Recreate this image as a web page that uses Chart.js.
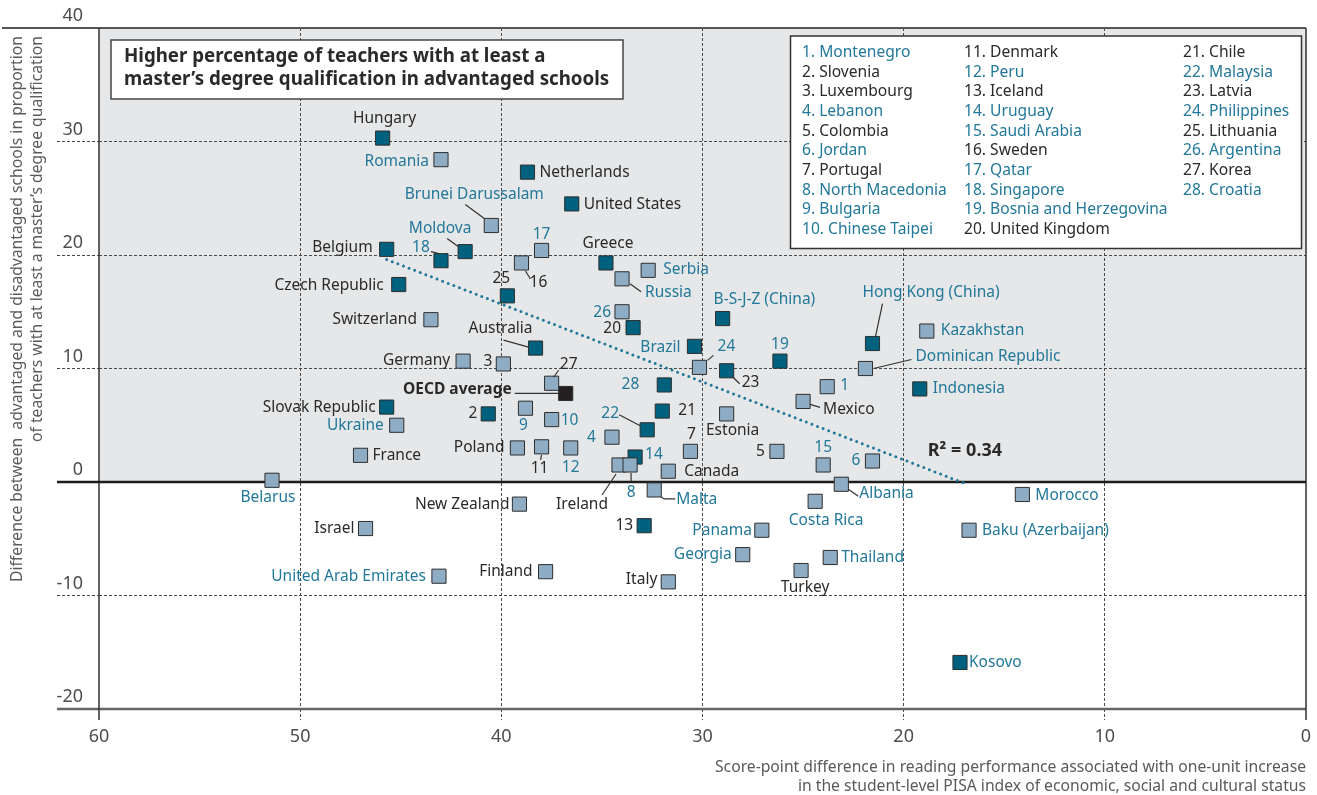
<!DOCTYPE html>
<html>
<head>
<meta charset="utf-8">
<script src="https://cdn.jsdelivr.net/npm/chart.js@4.4.0/dist/chart.umd.min.js"></script>
<style>
  html, body { margin: 0; padding: 0; background: #fff; }
  #wrap { width: 1317px; height: 795px; position: relative; }
</style>
</head>
<body>
<div id="wrap"><canvas id="chart"></canvas></div>
<script>
// Point labels as printed next to each marker (numbers refer to the key box)
const names = [
  'Hungary', 'Romania', 'Netherlands', 'United States', 'Brunei Darussalam', 'Moldova', '18', 'Belgium',
  '17', '16', 'Greece', 'Serbia', 'Russia', 'Czech Republic', '25', 'Switzerland',
  '26', '20', 'B-S-J-Z (China)', 'Hong Kong (China)', 'Kazakhstan', 'Australia', 'Brazil', '19',
  'Germany', '3', '24', '23', 'Dominican Republic', '27', 'OECD average', '28',
  '1', 'Indonesia', 'Mexico', 'Slovak Republic', '2', '9', '10', '21',
  'Estonia', 'Ukraine', '22', '4', 'France', 'Poland', '11', '12',
  '7', '5', '15', '6', '14', 'Ireland', '8', 'Canada',
  'Belarus', 'Albania', 'Malta', 'Morocco', 'New Zealand', 'Costa Rica', 'Israel', '13',
  'Panama', 'Baku (Azerbaijan)', 'Georgia', 'Thailand', 'United Arab Emirates', 'Finland', 'Turkey', 'Italy',
  'Kosovo'
];

// Score-point difference in reading per unit of ESCS
const scoreGap = [
  45.9, 43.0, 38.7, 36.5, 40.5, 41.8, 43.0, 45.7,
  38.0, 39.0, 34.8, 32.7, 34.0, 45.1, 39.7, 43.5,
  34.0, 33.45, 29.0, 21.55, 18.85, 38.3, 30.4, 26.15,
  41.9, 39.9, 30.15, 28.8, 21.9, 37.5, 36.8, 31.9,
  23.8, 19.2, 25.0, 45.7, 40.65, 38.8, 37.5, 32.0,
  28.8, 45.2, 32.75, 34.5, 47.0, 39.2, 38.0, 36.55,
  30.6, 26.3, 24.0, 21.55, 33.35, 34.15, 33.6, 31.7,
  51.4, 23.1, 32.4, 14.1, 39.1, 24.4, 46.75, 32.9,
  27.05, 16.75, 28.0, 23.65, 43.1, 37.8, 25.1, 31.7,
  17.2
];

// Advantaged minus disadvantaged schools, % of teachers with a master's degree
const teacherGap = [
  30.3, 28.4, 27.3, 24.5, 22.6, 20.3, 19.5, 20.5,
  20.4, 19.3, 19.3, 18.65, 17.9, 17.4, 16.4, 14.3,
  15.0, 13.6, 14.4, 12.2, 13.3, 11.8, 11.95, 10.65,
  10.65, 10.4, 10.1, 9.8, 10.0, 8.7, 7.8, 8.55,
  8.4, 8.2, 7.1, 6.6, 6.0, 6.5, 5.5, 6.25,
  6.0, 5.0, 4.6, 3.95, 2.35, 3.0, 3.1, 3.0,
  2.7, 2.7, 1.5, 1.85, 2.2, 1.5, 1.5, 0.95,
  0.15, -0.2, -0.7, -1.1, -1.95, -1.7, -4.1, -3.85,
  -4.25, -4.25, -6.4, -6.65, -8.3, -7.9, -7.8, -8.8,
  -15.9
];

// Marker kind: 'sig' = difference significant, 'ns' = not significant, 'avg' = OECD average
const marker = [
  'sig', 'ns', 'sig', 'sig', 'ns', 'sig', 'sig', 'sig',
  'ns', 'ns', 'sig', 'ns', 'ns', 'sig', 'sig', 'ns',
  'ns', 'sig', 'sig', 'sig', 'ns', 'sig', 'sig', 'sig',
  'ns', 'ns', 'ns', 'sig', 'ns', 'ns', 'avg', 'sig',
  'ns', 'sig', 'ns', 'sig', 'sig', 'ns', 'ns', 'sig',
  'ns', 'ns', 'sig', 'ns', 'ns', 'ns', 'ns', 'ns',
  'ns', 'ns', 'ns', 'ns', 'sig', 'ns', 'ns', 'ns',
  'ns', 'ns', 'ns', 'ns', 'ns', 'ns', 'ns', 'sig',
  'ns', 'ns', 'ns', 'ns', 'ns', 'ns', 'ns', 'ns',
  'sig'
];

// 1 = partner country/economy (teal label), 0 = OECD country (black label)
const partner = [
  0, 1, 0, 0, 1, 1, 1, 0,
  1, 0, 0, 1, 1, 0, 0, 0,
  1, 0, 1, 1, 1, 0, 1, 1,
  0, 0, 1, 0, 1, 0, 0, 1,
  1, 1, 0, 0, 0, 1, 1, 0,
  0, 1, 1, 1, 0, 0, 0, 1,
  0, 0, 1, 1, 1, 0, 1, 0,
  1, 1, 1, 1, 0, 1, 0, 0,
  1, 1, 1, 1, 1, 0, 0, 0,
  1
];

// Key for the numbered markers
const keyNames = [
  'Montenegro', 'Slovenia', 'Luxembourg', 'Lebanon', 'Colombia', 'Jordan', 'Portugal',
  'North Macedonia', 'Bulgaria', 'Chinese Taipei', 'Denmark', 'Peru', 'Iceland', 'Uruguay',
  'Saudi Arabia', 'Sweden', 'Qatar', 'Singapore', 'Bosnia and Herzegovina', 'United Kingdom',
  'Chile', 'Malaysia', 'Latvia', 'Philippines', 'Lithuania', 'Argentina', 'Korea', 'Croatia'
];

// Linear fit across countries
const trendX = [45.7, 17.0];
const trendY = [19.6, -0.1];
const rSquared = '0.34';

const xTicks = [0, 10, 20, 30, 40, 50, 60];
const yTicks = [-20, -10, 0, 10, 20, 30, 40];

const FONT = '"Noto Sans", "Open Sans", sans-serif';
const TEAL = '#22789a';
const INK = '#2a2a2a';
const GRID = '#4a4a4a';

// label placement: [dx, dy, align] from the marker centre (l = starts at dx, r = ends at dx, c = centred)
const labelPlace = {
  'Hungary': [2, -20, 'c'], 'Romania': [-12, 2, 'r'], 'Netherlands': [12, 0, 'l'],
  'United States': [12, 1, 'l'], 'Brunei Darussalam': [-17, -31, 'c'], 'Moldova': [-25, -23, 'c'],
  '18': [-20, -13, 'c'], 'Belgium': [-14, -2, 'r'], '17': [0, -16, 'c'], '16': [17, 20, 'c'],
  'Greece': [2, -19, 'c'], 'Serbia': [15, -1, 'l'], 'Russia': [23, 14, 'l'],
  'Czech Republic': [-15, 1, 'r'], '25': [-6, -17, 'c'], 'Switzerland': [-14, 0, 'r'],
  '26': [-11, 1, 'r'], '20': [-12, 1, 'r'], 'B-S-J-Z (China)': [-9, -19, 'l'],
  'Hong Kong (China)': [-10, -51, 'l'], 'Kazakhstan': [14, 0, 'l'], 'Australia': [-35, -19, 'c'],
  'Brazil': [-14, 1, 'r'], '19': [0, -17, 'c'], 'Germany': [-13, -1, 'r'], '3': [-11, -2, 'r'],
  '24': [27, -21, 'c'], '23': [15, 12, 'l'], 'Dominican Republic': [50, -12, 'l'],
  '27': [17, -19, 'c'], 'OECD average': [-54, -4, 'r'], '28': [-25, 0, 'r'], '1': [13, -1, 'l'],
  'Indonesia': [13, 0, 'l'], 'Mexico': [20, 8, 'l'], 'Slovak Republic': [-11, 0, 'r'],
  '2': [-11, 0, 'r'], '9': [-2, 17, 'c'], '10': [9, 1, 'l'], '21': [16, 0, 'l'],
  'Estonia': [6, 17, 'c'], 'Ukraine': [-13, 0, 'r'], '22': [-37, -16, 'c'], '4': [-16, 0, 'r'],
  'France': [12, 0, 'l'], 'Poland': [-13, 0, 'r'], '11': [-2, 22, 'c'], '12': [0, 20, 'c'],
  '7': [1, -17, 'c'], '5': [-12, 0, 'r'], '15': [0, -17, 'c'], '6': [-12, 0, 'r'],
  '14': [10, -2, 'l'], 'Ireland': [-37, 40, 'c'], '8': [1, 28, 'c'], 'Canada': [16, 0, 'l'],
  'Belarus': [-4, 17, 'c'], 'Albania': [18, 9, 'l'], 'Malta': [22, 10, 'l'], 'Morocco': [13, 1, 'l'],
  'New Zealand': [-10, 0, 'r'], 'Costa Rica': [11, 19, 'c'], 'Israel': [-11, 0, 'r'],
  '13': [-11, 0, 'r'], 'Panama': [-10, 0, 'r'], 'Baku (Azerbaijan)': [13, 0, 'l'],
  'Georgia': [-11, 0, 'r'], 'Thailand': [11, 0, 'l'], 'United Arab Emirates': [-13, 0, 'r'],
  'Finland': [-13, 0, 'r'], 'Turkey': [4, 17, 'c'], 'Italy': [-11, -2, 'r'], 'Kosovo': [9, 0, 'l']
};

// leader lines, as offsets from the marker centre
const leaders = {
  'Brunei Darussalam': [[-26, -21], [-7, -7]],
  'Moldova': [[-18, -13], [-7, -5]],
  '18': [[-10, -9], [-2, -7]],
  '16': [[4, 8], [9, 16]],
  'Russia': [[8, 5], [19, 13]],
  'Hong Kong (China)': [[10, -40], [3, -7]],
  'Australia': [[-32, -8], [-7, -1]],
  '24': [[8, -7], [14, -12]],
  '23': [[6, 6], [13, 13]],
  'Dominican Republic': [[8, 0], [46, -9]],
  '27': [[2, -6], [7, -13]],
  'OECD average': [[-51, 0], [-7, 0]],
  'Mexico': [[7, 3], [17, 6]],
  '22': [[-28, -15], [-7, -4]],
  '11': [[0, 8], [-1, 13]],
  'Ireland': [[-3, 9], [-17, 30]],
  '8': [[1, 8], [1, 17]],
  'Albania': [[7, 5], [17, 12]],
  'Malta': [[7, 7], [10, 9], [21, 9]]
};

const points = names.map((n, i) => ({ x: scoreGap[i], y: teacherGap[i], name: n, partner: partner[i] }));
const byKind = kind => points.filter((p, i) => marker[i] === kind);

const edgeOrGrid = (edges) => (ctx) => edges.includes(ctx.tick.value) ? 'rgba(0,0,0,0)' : GRID;

const decorations = {
  id: 'decorations',
  beforeDraw(chart) {
    const { ctx, chartArea: a, scales: { y } } = chart;
    const y0 = y.getPixelForValue(0);
    ctx.save();
    ctx.fillStyle = '#e6e7e8';
    ctx.fillRect(a.left, a.top, a.right - a.left, y0 - a.top);
    ctx.restore();
  },
  beforeDatasetsDraw(chart) {
    const { ctx, chartArea: a, scales: { y } } = chart;
    const y0 = y.getPixelForValue(0);
    ctx.save();
    ctx.lineCap = 'butt';
    // top rule
    ctx.strokeStyle = '#555';
    ctx.lineWidth = 2;
    ctx.beginPath(); ctx.moveTo(2, a.top); ctx.lineTo(a.right, a.top); ctx.stroke();
    // bottom rule
    ctx.strokeStyle = '#666';
    ctx.lineWidth = 2.5;
    ctx.beginPath(); ctx.moveTo(57, a.bottom); ctx.lineTo(a.right, a.bottom); ctx.stroke();
    // side rules
    ctx.strokeStyle = '#333';
    ctx.lineWidth = 1.5;
    ctx.beginPath();
    ctx.moveTo(a.left, a.top); ctx.lineTo(a.left, a.bottom + 11);
    ctx.moveTo(a.right, a.top); ctx.lineTo(a.right, a.bottom + 11);
    ctx.stroke();
    // zero line
    ctx.strokeStyle = '#1c1c1c';
    ctx.lineWidth = 2.6;
    ctx.beginPath(); ctx.moveTo(57, y0); ctx.lineTo(a.right, y0); ctx.stroke();
    ctx.restore();
  },
  afterDatasetsDraw(chart) {
    const { ctx } = chart;
    ctx.save();
    ctx.textBaseline = 'middle';
    [0, 1, 2].forEach(d => {
      const ds = chart.data.datasets[d];
      chart.getDatasetMeta(d).data.forEach((el, j) => {
        const p = ds.data[j];
        const lines = leaders[p.name];
        if (lines) {
          ctx.strokeStyle = '#333';
          ctx.lineWidth = 1.2;
          ctx.beginPath();
          lines.forEach(([dx, dy], k) => {
            if (k === 0) ctx.moveTo(el.x + dx, el.y + dy);
            else ctx.lineTo(el.x + dx, el.y + dy);
          });
          ctx.stroke();
        }
        const [dx, dy, al] = labelPlace[p.name] || [12, 0, 'l'];
        const bold = p.name === 'OECD average';
        ctx.font = (bold ? 'bold ' : '') + '15.5px ' + FONT;
        ctx.fillStyle = p.partner ? TEAL : INK;
        ctx.textAlign = al === 'l' ? 'left' : al === 'r' ? 'right' : 'center';
        ctx.fillText(p.name, el.x + dx, el.y + dy);
      });
    });
    ctx.restore();
  },
  afterDraw(chart) {
    const { ctx, scales: { x, y } } = chart;
    ctx.save();

    // fit statistic
    ctx.font = 'bold 18px ' + FONT;
    ctx.fillStyle = INK;
    ctx.textBaseline = 'middle';
    ctx.textAlign = 'left';
    ctx.fillText('R\u00B2 = ' + rSquared, x.getPixelForValue(18.8), y.getPixelForValue(2.7));

    // heading box
    ctx.fillStyle = '#fff';
    ctx.strokeStyle = '#444';
    ctx.lineWidth = 1.5;
    ctx.fillRect(111, 40, 512, 59);
    ctx.strokeRect(111, 40, 512, 59);
    ctx.fillStyle = INK;
    ctx.font = 'bold 18.7px ' + FONT;
    ctx.fillText('Higher percentage of teachers with at least a', 124, 57);
    ctx.fillText('master\u2019s degree qualification in advantaged schools', 124, 79.5);

    // key box
    ctx.fillStyle = '#fff';
    ctx.strokeStyle = '#333';
    ctx.fillRect(790.5, 36, 511, 212.5);
    ctx.strokeRect(790.5, 36, 511, 212.5);
    ctx.font = '15.6px ' + FONT;
    const cols = [802, 964, 1183];
    keyNames.forEach((n, i) => {
      const idx = names.indexOf(String(i + 1));
      ctx.fillStyle = partner[idx] ? TEAL : INK;
      ctx.fillText((i + 1) + '. ' + n, cols[Math.floor(i / 10)], 52.5 + (i % 10) * 19.65);
    });

    // axis titles
    ctx.fillStyle = '#5a5a5a';
    ctx.font = '15.7px ' + FONT;
    ctx.textAlign = 'right';
    ctx.fillText('Score-point difference in reading performance associated with one-unit increase', 1306, 768);
    ctx.fillText('in the student-level PISA index of economic, social and cultural status', 1306, 787);
    ctx.translate(18, 36);
    ctx.rotate(-Math.PI / 2);
    ctx.fillText('Difference between  advantaged and disadvantaged schools in proportion', 0, 0);
    ctx.fillText('of teachers with at least a master\u2019s degree qualification', 0, 19.5);
    ctx.restore();
  }
};

const squares = (data, fill) => ({
  type: 'scatter',
  data,
  pointStyle: 'rect',
  pointRadius: 10,
  pointBackgroundColor: fill,
  pointBorderColor: '#2e2e2e',
  pointBorderWidth: 1
});

new Chart(document.getElementById('chart'), {
  type: 'scatter',
  data: {
    datasets: [
      squares(byKind('ns'), '#8eacc4'),
      squares(byKind('sig'), '#00617f'),
      squares(byKind('avg'), '#231f20'),
      {
        type: 'line',
        data: trendX.map((v, i) => ({ x: v, y: trendY[i] })),
        borderColor: '#1f7899',
        borderWidth: 3,
        borderDash: [0, 6],
        borderCapStyle: 'round',
        pointRadius: 0,
        fill: false
      }
    ]
  },
  options: {
    responsive: true,
    maintainAspectRatio: false,
    animation: false,
    events: [],
    layout: { padding: { top: 28, right: 9, left: 0, bottom: 0 } },
    plugins: { legend: { display: false }, tooltip: { enabled: false } },
    scales: {
      x: {
        type: 'linear',
        reverse: true,
        min: 0, max: 60,
        afterBuildTicks: s => { s.ticks = xTicks.map(v => ({ value: v })); },
        ticks: { font: { family: FONT, size: 18 }, color: '#4d4d4d', padding: 6 },
        grid: {
          color: edgeOrGrid([0, 60]),
          tickColor: edgeOrGrid([0, 60]),
          lineWidth: 1,
          tickLength: 11,
          tickBorderDash: [3, 2]
        },
        border: { display: false, dash: [3, 2] },
        afterFit: s => { s.height = 86; }
      },
      y: {
        min: -20, max: 40,
        afterBuildTicks: s => { s.ticks = yTicks.map(v => ({ value: v })); },
        ticks: { font: { family: FONT, size: 18 }, color: '#4d4d4d', padding: -26, labelOffset: -12 },
        grid: {
          color: edgeOrGrid([-20, 0, 40]),
          tickColor: edgeOrGrid([-20, 0, 40]),
          lineWidth: 1,
          tickLength: 42,
          tickBorderDash: [3, 2]
        },
        border: { display: false, dash: [3, 2] },
        afterFit: s => { s.width = 99; }
      }
    }
  },
  plugins: [decorations]
});
</script>
</body>
</html>
